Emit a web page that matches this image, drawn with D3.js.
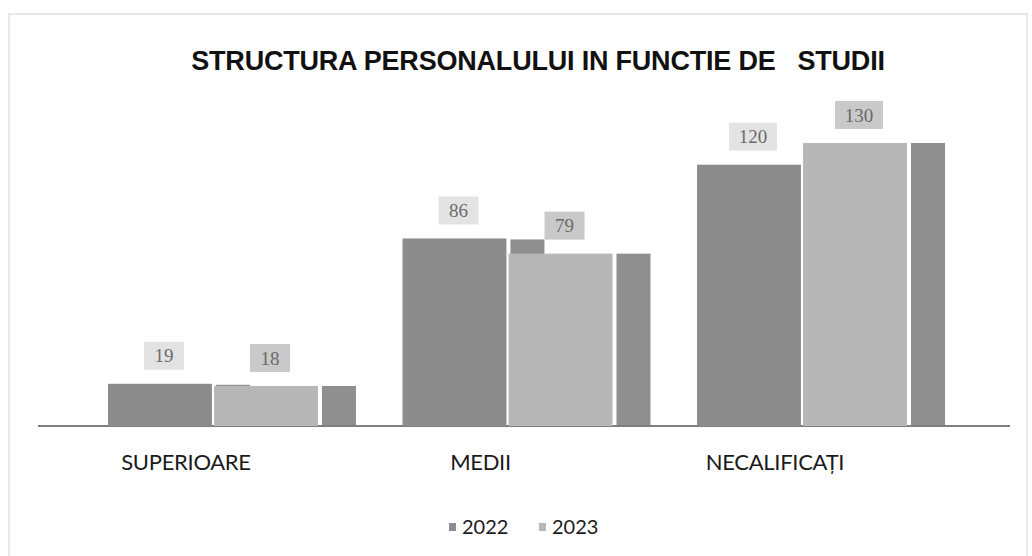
<!DOCTYPE html>
<html>
<head>
<meta charset="utf-8">
<script src="https://cdn.jsdelivr.net/npm/d3@7"></script>
<style>
  body { margin: 0; background: #fff; }
  svg { display: block; }
</style>
</head>
<body>
<svg id="chart"></svg>
<script>
// chart data
const categories = ['SUPERIOARE', 'MEDII', 'NECALIFICAȚI'];
const seriesNames = ['2022', '2023'];
const values2022 = [19, 86, 120];
const values2023 = [18, 79, 130];
const title = 'STRUCTURA PERSONALULUI IN FUNCTIE DE   STUDII';

const COLORS = { '2022': '#8c8c8c', '2023': '#b7b7b7' };
const SIDE_COLOR = '#8f8f8f';
const LABEL_BG = { '2022': '#e3e3e3', '2023': '#c9c9c9' };

const width = 1032;
const height = 556;
const baseline = 425;

const rows = categories.map((c, i) => ({
  category: c,
  values: [
    { key: '2022', value: values2022[i] },
    { key: '2023', value: values2023[i] }
  ]
}));

const svg = d3.select('#chart')
    .attr('width', width)
    .attr('height', height);

// faint frame of the scanned page
svg.append('rect')
    .attr('x', 9).attr('y', 14)
    .attr('width', width - 14).attr('height', height - 10)
    .attr('fill', 'none')
    .attr('stroke', '#e8e8e8')
    .attr('stroke-width', 2);

const x0 = d3.scaleBand()
    .domain(categories)
    .range([108, 907])
    .paddingInner(0.287)
    .paddingOuter(0);

const x1 = d3.scaleBand()
    .domain(seriesNames)
    .range([0, x0.bandwidth()])
    .paddingInner(0.02);

const y = d3.scaleLinear()
    .domain([0, 130])
    .range([baseline, 143]);

// title
svg.append('text')
    .attr('x', 538)
    .attr('y', 70)
    .attr('text-anchor', 'middle')
    .attr('font-family', 'Liberation Sans, Arial, sans-serif')
    .attr('font-weight', 'bold')
    .attr('font-size', 27)
    .attr('letter-spacing', -0.2)
    .attr('fill', '#111')
    .style('white-space', 'pre')
    .text(title);

// baseline
svg.append('line')
    .attr('x1', 38).attr('x2', 1010)
    .attr('y1', baseline + 1).attr('y2', baseline + 1)
    .attr('stroke', '#555')
    .attr('stroke-width', 1.5);

const groups = svg.selectAll('.group')
    .data(rows)
    .enter()
    .append('g')
    .attr('class', 'group')
    .attr('transform', (d) => `translate(${x0(d.category)},0)`);

const sideGap = 4;
const sideWidth = 34;

// side faces (3D look), drawn behind the front faces
groups.selectAll('.side')
    .data((d) => d.values)
    .enter()
    .append('rect')
    .attr('class', 'side')
    .attr('x', (d) => x1(d.key) + x1.bandwidth() + sideGap)
    .attr('y', (d) => y(d.value) + (d.key === '2022' ? 1 : 0))
    .attr('width', sideWidth)
    .attr('height', (d) => baseline - y(d.value))
    .attr('fill', SIDE_COLOR);

// front faces
groups.selectAll('.bar')
    .data((d) => d.values)
    .enter()
    .append('rect')
    .attr('class', 'bar')
    .attr('x', (d) => x1(d.key))
    .attr('y', (d) => y(d.value))
    .attr('width', x1.bandwidth())
    .attr('height', (d) => baseline - y(d.value) + 1)
    .attr('fill', (d) => COLORS[d.key]);

// data labels
const labels = groups.selectAll('.label')
    .data((d) => d.values)
    .enter()
    .append('g')
    .attr('class', 'label')
    .attr('transform', (d) => `translate(${x1(d.key) + x1.bandwidth() / 2 + 4},${y(d.value) - 28})`);

labels.append('rect')
    .attr('x', (d) => String(d.value).length > 2 ? -24 : -20)
    .attr('y', -14)
    .attr('width', (d) => String(d.value).length > 2 ? 48 : 40)
    .attr('height', 28)
    .attr('fill', (d) => LABEL_BG[d.key]);

labels.append('text')
    .attr('text-anchor', 'middle')
    .attr('dy', '0.35em')
    .attr('font-family', 'Liberation Serif, DejaVu Serif, serif')
    .attr('font-size', 19)
    .attr('fill', '#6a6a6a')
    .text((d) => d.value);

// category labels
svg.selectAll('.cat')
    .data(categories)
    .enter()
    .append('text')
    .attr('class', 'cat')
    .attr('x', (d) => x0(d) + x0.bandwidth() / 2 - 27)
    .attr('y', 470)
    .attr('text-anchor', 'middle')
    .attr('font-family', 'Lato, sans-serif')
    .attr('font-size', 22)
    .attr('letter-spacing', -0.3)
    .attr('fill', '#1a1a1a')
    .text((d) => d);

// legend
const legend = svg.append('g')
    .attr('transform', 'translate(449,527)');

const legendItems = legend.selectAll('.legend-item')
    .data(seriesNames)
    .enter()
    .append('g')
    .attr('class', 'legend-item')
    .attr('transform', (d, i) => `translate(${i * 90},0)`);

legendItems.append('rect')
    .attr('x', 0)
    .attr('y', -4)
    .attr('width', 7)
    .attr('height', 8)
    .attr('fill', (d) => COLORS[d]);

legendItems.append('text')
    .attr('x', 13)
    .attr('y', 0)
    .attr('dy', '0.35em')
    .attr('font-family', 'Lato, sans-serif')
    .attr('font-size', 20)
    .attr('fill', '#1a1a1a')
    .text((d) => d);
</script>
</body>
</html>
